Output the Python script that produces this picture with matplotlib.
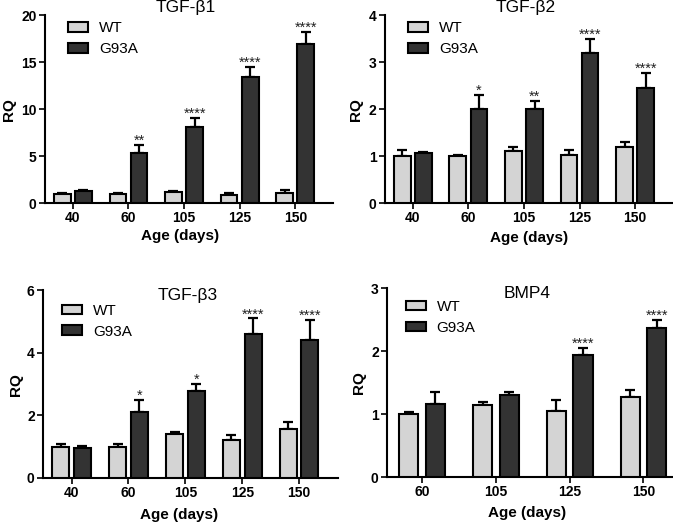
import numpy as np
import matplotlib.pyplot as plt

plt.rcParams['font.family'] = ['Liberation Sans', 'DejaVu Sans']

# ages for each panel
ages_tgf = ['40', '60', '105', '125', '150']
ages_bmp = ['60', '105', '125', '150']

# TGF-b1
b1_wt = [1.0, 1.0, 1.2, 0.9, 1.1]
b1_wt_err = [0.08, 0.05, 0.12, 0.12, 0.3]
b1_mut = [1.25, 5.3, 8.1, 13.4, 16.9]
b1_mut_err = [0.1, 0.9, 1.0, 1.1, 1.3]
b1_stars = ['', '**', '****', '****', '****']

# TGF-b2
b2_wt = [1.0, 1.0, 1.1, 1.02, 1.2]
b2_wt_err = [0.12, 0.02, 0.1, 0.1, 0.1]
b2_mut = [1.06, 2.0, 2.0, 3.2, 2.44]
b2_mut_err = [0.02, 0.3, 0.17, 0.3, 0.33]
b2_stars = ['', '*', '**', '****', '****']

# TGF-b3
b3_wt = [1.0, 1.0, 1.4, 1.2, 1.55]
b3_wt_err = [0.08, 0.08, 0.07, 0.18, 0.23]
b3_mut = [0.97, 2.12, 2.77, 4.6, 4.42]
b3_mut_err = [0.05, 0.38, 0.23, 0.5, 0.63]
b3_stars = ['', '*', '*', '****', '****']

# BMP4
bmp_wt = [1.0, 1.15, 1.05, 1.28]
bmp_wt_err = [0.03, 0.05, 0.17, 0.1]
bmp_mut = [1.16, 1.3, 1.94, 2.37]
bmp_mut_err = [0.19, 0.05, 0.11, 0.13]
bmp_stars = ['', '', '****', '****']

WT_COL = '#d4d4d4'
MUT_COL = '#333333'


def panel(rect, title, title_y, ages, wt, wt_err, mut, mut_err, stars,
          ymax, yticks, width, off, xlim, leg_anchor, ylab_x, xlab_xy):
    ax = fig.add_axes(rect)
    x = np.arange(len(ages))
    ax.bar(x - off, wt, width, color=WT_COL, edgecolor='black', linewidth=1.5,
           label='WT', zorder=3)
    ax.bar(x + off, mut, width, color=MUT_COL, edgecolor='black', linewidth=1.5,
           label='G93A', zorder=3)
    # upper error bars only
    ax.errorbar(x - off, wt, yerr=[np.zeros(len(wt)), wt_err], fmt='none',
                ecolor='black', elinewidth=1.6, capsize=3.5, capthick=1.6, zorder=2)
    ax.errorbar(x + off, mut, yerr=[np.zeros(len(mut)), mut_err], fmt='none',
                ecolor='black', elinewidth=1.6, capsize=3.5, capthick=1.6, zorder=2)
    for i, s in enumerate(stars):
        if s:
            ax.annotate(s, (x[i] + off, mut[i] + mut_err[i]), xytext=(0, 0),
                        textcoords='offset points', ha='center', va='baseline',
                        fontsize=10.5, color='#222222')
    ax.set_xlim(*xlim)
    ax.set_ylim(0, ymax)
    ax.set_yticks(yticks)
    ax.set_xticks(x)
    ax.set_xticklabels(ages)
    for side in ['top', 'right']:
        ax.spines[side].set_visible(False)
    for side in ['left', 'bottom']:
        ax.spines[side].set_linewidth(1.5)
    ax.tick_params(axis='both', length=4, width=1.2, labelsize=10, pad=2)
    for lab in ax.get_xticklabels() + ax.get_yticklabels():
        lab.set_fontweight('bold')
    ax.set_ylabel('RQ', fontsize=11, fontweight='bold')
    ax.yaxis.set_label_coords(ylab_x, 0.5)
    ax.set_xlabel('Age (days)', fontsize=11, fontweight='bold')
    ax.xaxis.set_label_coords(*xlab_xy)
    ax.text(0.49, title_y, title, transform=ax.transAxes, ha='center',
            va='center', fontsize=12.5)
    ax.legend(loc='upper left', bbox_to_anchor=leg_anchor, frameon=False,
              fontsize=11, handlelength=1.3, handleheight=0.6,
              handletextpad=0.7, labelspacing=0.45, borderaxespad=0)
    return ax


fig = plt.figure(figsize=(6.73, 5.26), dpi=100)

panel([0.0669, 0.614, 0.428, 0.357], 'TGF-\u03b21', 1.043, ages_tgf,
      b1_wt, b1_wt_err, b1_mut, b1_mut_err, b1_stars,
      20, [0, 5, 10, 15, 20], 0.3, 0.19, (-0.5, 4.68), (0.06, 1.0),
      -0.10, (0.47, -0.14))

panel([0.572, 0.614, 0.428, 0.357], 'TGF-\u03b22', 1.043, ages_tgf,
      b2_wt, b2_wt_err, b2_mut, b2_mut_err, b2_stars,
      4, [0, 1, 2, 3, 4], 0.3, 0.19, (-0.5, 4.68), (0.06, 1.0),
      -0.076, (0.5, -0.15))

panel([0.064, 0.0913, 0.438, 0.357], 'TGF-\u03b23', 0.973, ages_tgf,
      b3_wt, b3_wt_err, b3_mut, b3_mut_err, b3_stars,
      6, [0, 2, 4, 6], 0.3, 0.19, (-0.5, 4.68), (0.045, 0.96),
      -0.068, (0.46, -0.16))

panel([0.575, 0.093, 0.425, 0.359], 'BMP4', 0.974, ages_bmp,
      bmp_wt, bmp_wt_err, bmp_mut, bmp_mut_err, bmp_stars,
      3, [0, 1, 2, 3], 0.26, 0.18, (-0.475, 3.4), (0.045, 0.97),
      -0.073, (0.49, -0.155))

fig.savefig('out.png', dpi=100)
